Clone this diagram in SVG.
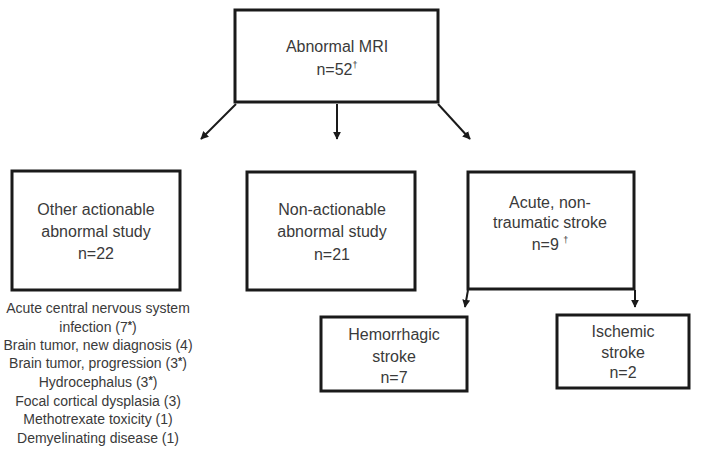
<svg xmlns="http://www.w3.org/2000/svg" width="708" height="457" viewBox="0 0 708 457">
<defs>
<marker id="ah" viewBox="0 0 10 10" refX="9" refY="5" markerWidth="4" markerHeight="4" orient="auto" markerUnits="strokeWidth">
<path d="M0,0 L10,5 L0,10 z" fill="#1a1a1a"/>
</marker>
<style>
.box{fill:#fff;stroke:#1a1a1a;stroke-width:3}
.t{font-family:"Liberation Sans",Arial,sans-serif;font-size:16px;fill:#3a3a3a;text-anchor:middle}
.l{font-family:"Liberation Sans",Arial,sans-serif;font-size:14px;fill:#3a3a3a;text-anchor:middle}
.sup{font-size:9px}
.star{font-size:11px;font-weight:bold}
.c{stroke:#1a1a1a;stroke-width:2;fill:none;marker-end:url(#ah)}
</style>
</defs>
<rect width="708" height="457" fill="#fff"/>
<g id="connectors">
<line class="c" x1="236" y1="104" x2="201" y2="139"/>
<line class="c" x1="337" y1="104" x2="337" y2="139"/>
<line class="c" x1="438" y1="104" x2="470" y2="139"/>
<line class="c" x1="468" y1="290" x2="465" y2="307"/>
<line class="c" x1="635" y1="290" x2="635" y2="307"/>
</g>
<g id="abnormal-mri">
<rect class="box" x="235" y="10" width="203" height="92"/>
<text class="t" x="337" y="52">Abnormal MRI</text>
<text class="t" x="337" y="75">n=52<tspan class="sup" dy="-7">†</tspan></text>
</g>
<g id="other-actionable">
<rect class="box" x="12" y="171" width="168" height="119"/>
<text class="t" x="96" y="215">Other actionable</text>
<text class="t" x="96" y="237">abnormal study</text>
<text class="t" x="96" y="259">n=22</text>
</g>
<g id="other-list">
<text class="l" x="98" y="313">Acute central nervous system</text>
<text class="l" x="98" y="332">infection (7<tspan class="star" dy="-3">*</tspan><tspan dy="3">)</tspan></text>
<text class="l" x="98" y="350">Brain tumor, new diagnosis (4)</text>
<text class="l" x="98" y="368">Brain tumor, progression (3<tspan class="star" dy="-3">*</tspan><tspan dy="3">)</tspan></text>
<text class="l" x="98" y="387">Hydrocephalus (3<tspan class="star" dy="-3">*</tspan><tspan dy="3">)</tspan></text>
<text class="l" x="98" y="406">Focal cortical dysplasia (3)</text>
<text class="l" x="98" y="424">Methotrexate toxicity (1)</text>
<text class="l" x="98" y="443">Demyelinating disease (1)</text>
</g>
<g id="non-actionable">
<rect class="box" x="247" y="172" width="168" height="118"/>
<text class="t" x="332" y="215">Non-actionable</text>
<text class="t" x="332" y="237">abnormal study</text>
<text class="t" x="332" y="260">n=21</text>
</g>
<g id="acute-stroke">
<rect class="box" x="468" y="172" width="166" height="117"/>
<text class="t" x="550" y="208">Acute, non-</text>
<text class="t" x="550" y="228">traumatic stroke</text>
<text class="t" x="550" y="250">n=9 <tspan class="sup" dy="-7">†</tspan></text>
</g>
<g id="hemorrhagic">
<rect class="box" x="321" y="317" width="146" height="74"/>
<text class="t" x="394" y="340">Hemorrhagic</text>
<text class="t" x="394" y="362">stroke</text>
<text class="t" x="394" y="383">n=7</text>
</g>
<g id="ischemic">
<rect class="box" x="557" y="315" width="132" height="73"/>
<text class="t" x="623" y="337">Ischemic</text>
<text class="t" x="623" y="358">stroke</text>
<text class="t" x="623" y="378">n=2</text>
</g>
</svg>
